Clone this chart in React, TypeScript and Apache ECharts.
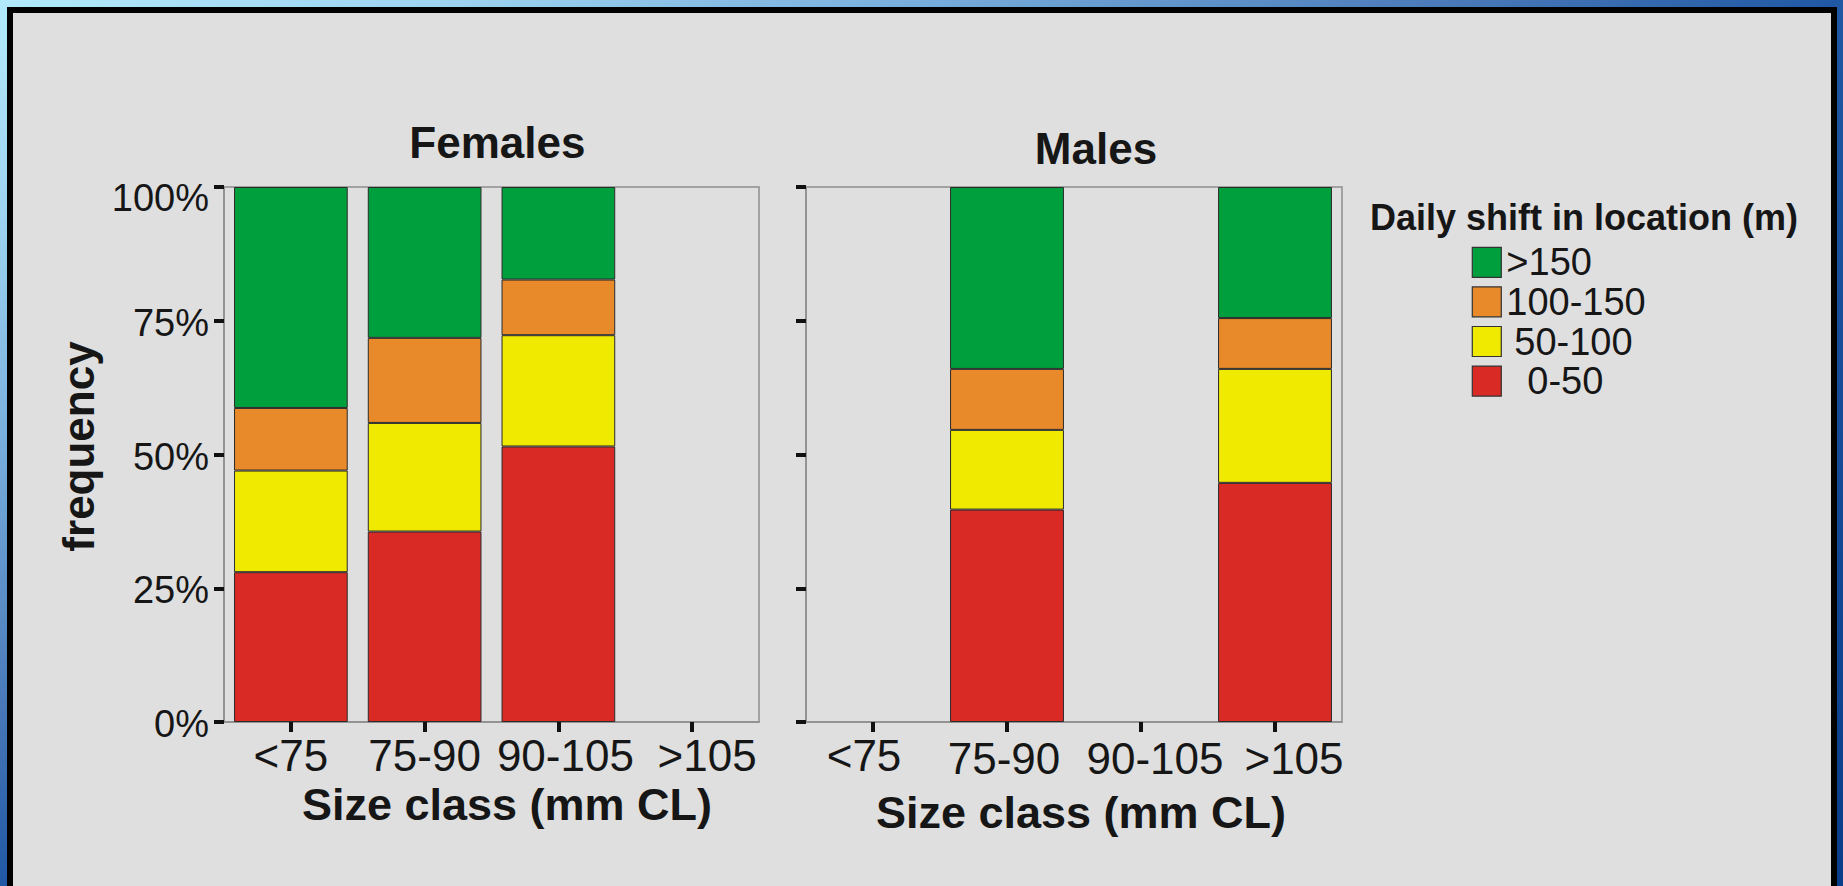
import React, { useEffect, useRef } from "react";
import * as echarts from "echarts";

const categories = ["<75", "75-90", "90-105", ">105"];
const seriesNames = ["0-50", "50-100", "100-150", ">150"];
const legendOrder = [">150", "100-150", "50-100", "0-50"];
const colors = ["#d92a26", "#f0e900", "#e8892a", "#009f3e"];

// Percent of observations per size class (stack bottom to top: 0-50, 50-100, 100-150, >150)
const female0to50 = [28.0, 35.6, 51.5, null];
const female50to100 = [19.0, 20.3, 20.8, null];
const female100to150 = [11.7, 15.9, 10.4, null];
const femaleOver150 = [41.3, 28.2, 17.3, null];

const male0to50 = [null, 39.7, null, 44.7];
const male50to100 = [null, 14.9, null, 21.3];
const male100to150 = [null, 11.4, null, 9.5];
const maleOver150 = [null, 34.0, null, 24.5];

const femaleData = [female0to50, female50to100, female100to150, femaleOver150];
const maleData = [male0to50, male50to100, male100to150, maleOver150];

const FONT = '"Liberation Sans", Arial, Helvetica, sans-serif';
const TXT = "#161616";

// horizontal / vertical offsets of tick labels from their ticks (px), as in the original layout
const femaleLabelShift = [0, 0, 7, 15];
const femaleLabelDrop = [0, 0, 0, 0];
const maleLabelShift = [-9, -3, 14, 19];
const maleLabelDrop = [0, 3, 3, 3];
const legendIndent = [0, 0, 8, 21];

export default function App() {
  const ref = useRef<HTMLDivElement>(null);

  useEffect(() => {
    if (!ref.current) return;
    const chart = echarts.init(ref.current, undefined, { renderer: "svg" });

    const tickStyle = { length: 10, lineStyle: { width: 4, color: "#111" } };
    const axisLineStyle = { show: true, lineStyle: { color: "#8e8e8e", width: 1.5 } };

    const makeX = (gi: number, margin: number, shifts: number[], drops: number[]) => {
      const rich: any = {};
      shifts.forEach((s, i) => {
        rich["s" + i] = {
          fontSize: 44,
          fontFamily: FONT,
          color: TXT,
          padding: s >= 0 ? [drops[i], 0, 0, 2 * s] : [drops[i], -2 * s, 0, 0],
        };
      });
      return {
        gridIndex: gi,
        type: "category",
        data: categories,
        axisLine: axisLineStyle,
        axisTick: { show: true, alignWithLabel: true, ...tickStyle },
        axisLabel: {
          interval: 0,
          hideOverlap: false,
          fontSize: 44,
          fontFamily: FONT,
          color: TXT,
          margin,
          formatter: (v: string, i: number) => "{s" + i + "|" + v + "}",
          rich,
        },
        splitLine: { show: false },
      };
    };

    const makeY = (gi: number, showLabels: boolean) => ({
      gridIndex: gi,
      type: "value",
      min: 0,
      max: 100,
      interval: 25,
      axisLine: axisLineStyle,
      axisTick: { show: true, ...tickStyle },
      axisLabel: {
        show: showLabels,
        fontSize: 38,
        fontFamily: FONT,
        color: TXT,
        margin: 15,
        formatter: (v: number) => (v === 100 ? "{top|100%}" : "{n|" + v + "%}"),
        rich: {
          top: { fontSize: 38, fontFamily: FONT, color: TXT, padding: [22, 0, 0, 0] },
          n: { fontSize: 38, fontFamily: FONT, color: TXT, padding: [4, 0, 0, 0] },
        },
      },
      splitLine: { show: false },
    });

    const makeSeries = (data: (number | null)[][], gi: number, stack: string) =>
      data.map((d, i) => ({
        type: "bar",
        name: seriesNames[i],
        stack,
        xAxisIndex: gi,
        yAxisIndex: gi,
        data: d.map((v) => (v === null ? "-" : v)),
        barCategoryGap: "15%",
        itemStyle: { color: colors[i], borderColor: "#2b2b2b", borderWidth: 1 },
        emphasis: { disabled: true },
      }));

    const legendRich: any = {};
    legendIndent.forEach((p, i) => {
      legendRich["l" + i] = {
        fontSize: 38,
        fontFamily: FONT,
        color: TXT,
        padding: [0, 0, 0, p],
      };
    });

    const option: any = {
      animation: false,
      backgroundColor: "transparent",
      textStyle: { fontFamily: FONT },
      grid: [
        { left: 224, top: 187, width: 535, height: 535, show: true, borderColor: "#8e8e8e", borderWidth: 1.5 },
        { left: 806, top: 187, width: 536, height: 535, show: true, borderColor: "#8e8e8e", borderWidth: 1.5 },
      ],
      xAxis: [makeX(0, 11, femaleLabelShift, femaleLabelDrop), makeX(1, 11, maleLabelShift, maleLabelDrop)],
      yAxis: [makeY(0, true), makeY(1, false)],
      legend: {
        orient: "vertical",
        left: 1471.7,
        top: 243.3,
        padding: 0,
        itemWidth: 29,
        itemHeight: 30,
        itemGap: 1.6,
        icon: "rect",
        selectedMode: false,
        itemStyle: { borderColor: "#333", borderWidth: 1.2 },
        textStyle: { fontSize: 38, color: TXT, fontFamily: FONT, rich: legendRich },
        formatter: (name: string) => "{l" + legendOrder.indexOf(name) + "|" + name + "}",
        data: legendOrder,
      },
      graphic: [
        {
          type: "text",
          x: 497.4,
          y: 142.8,
          style: { text: "Females", font: `bold 44px ${FONT}`, fill: TXT, align: "center", verticalAlign: "middle" },
        },
        {
          type: "text",
          x: 1096,
          y: 148.1,
          style: { text: "Males", font: `bold 44px ${FONT}`, fill: TXT, align: "center", verticalAlign: "middle" },
        },
        {
          type: "text",
          x: 507,
          y: 804.8,
          style: { text: "Size class (mm CL)", font: `bold 45px ${FONT}`, fill: TXT, align: "center", verticalAlign: "middle" },
        },
        {
          type: "text",
          x: 1081,
          y: 812.8,
          style: { text: "Size class (mm CL)", font: `bold 45px ${FONT}`, fill: TXT, align: "center", verticalAlign: "middle" },
        },
        {
          type: "text",
          x: 78.8,
          y: 446.5,
          rotation: Math.PI / 2,
          style: { text: "frequency", font: `bold 44px ${FONT}`, fill: TXT, align: "center", verticalAlign: "middle" },
        },
        {
          type: "text",
          x: 1370,
          y: 217.9,
          style: { text: "Daily shift in location (m)", font: `bold 36px ${FONT}`, fill: TXT, align: "left", verticalAlign: "middle" },
        },
      ],
      series: [...makeSeries(femaleData, 0, "female"), ...makeSeries(maleData, 1, "male")],
    };

    chart.setOption(option);
    return () => chart.dispose();
  }, []);

  return (
    <div style={{ position: "fixed", left: 0, top: 0, width: 1843, height: 886, overflow: "hidden" }}>
      <div
        style={{
          position: "absolute",
          inset: 0,
          background:
            "linear-gradient(to bottom right, #b2eafc 0%, #9ed4f0 12%, #78aedc 25%, #4878b8 40%, #2058a4 50%, #0a3e8a 100%)",
        }}
      />
      <div
        style={{
          position: "absolute",
          left: 7,
          top: 7,
          width: 1830,
          height: 920,
          boxSizing: "border-box",
          border: "6px solid #000",
          background: "#dfdfdf",
        }}
      />
      <div ref={ref} style={{ position: "absolute", left: 0, top: 0, width: 1843, height: 886 }} />
    </div>
  );
}
